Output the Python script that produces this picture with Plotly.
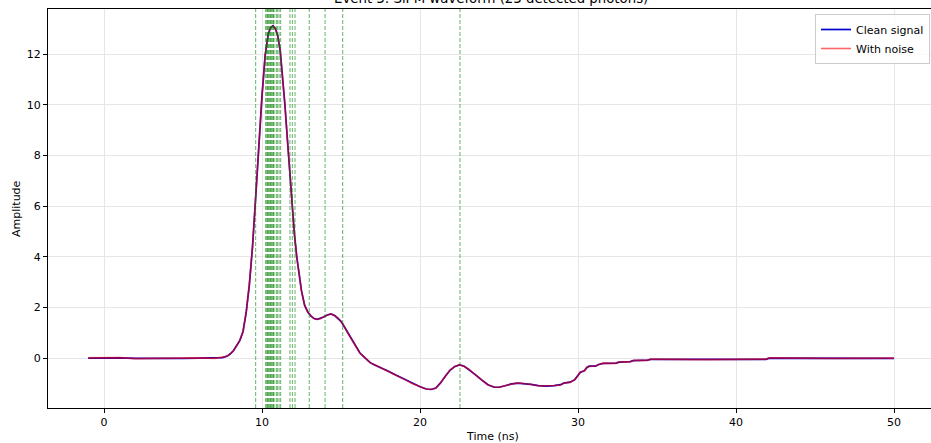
import plotly.graph_objects as go

# ---- data ----
time_ns = [-1.0, 0.0, 1.0, 2.0, 3.0, 4.0, 5.0, 6.0, 7.0, 7.5, 7.8, 8.0, 8.2, 8.4, 8.6, 8.8,
           9.0, 9.2, 9.4, 9.6, 9.8, 10.0, 10.2, 10.4, 10.55, 10.7, 10.85, 11.0, 11.15, 11.3,
           11.45, 11.6, 11.75, 11.9, 12.05, 12.2, 12.35, 12.5, 12.7, 12.9, 13.1, 13.3, 13.5,
           13.7, 13.9, 14.1, 14.35, 14.6, 14.8, 15.0, 15.2, 15.4, 15.6, 15.8, 16.0, 16.2,
           16.5, 16.85, 17.1, 17.5, 18.0, 18.5, 19.0, 19.5, 20.0, 20.4, 20.7, 21.0, 21.3,
           21.6, 21.9, 22.2, 22.5, 22.8, 23.1, 23.5, 23.9, 24.3, 24.7, 25.0, 25.4, 25.8,
           26.2, 26.6, 27.0, 27.5, 28.0, 28.5, 28.9, 29.1, 29.5, 29.8, 30.0, 30.15, 30.4,
           30.55, 30.7, 31.1, 31.3, 31.6, 32.4, 32.6, 33.3, 33.5, 34.4, 34.6, 38.0, 41.9,
           42.1, 46.0, 50.0]

clean_signal = [0.0, 0.01, 0.01, -0.01, -0.02, -0.01, -0.01, 0.0, 0.0, 0.02, 0.08, 0.17, 0.3,
                0.48, 0.7, 1.05, 1.8, 2.9, 4.4, 6.35, 8.4, 10.35, 11.95, 12.8, 13.05, 13.12,
                13.0, 12.72, 12.15, 11.2, 10.0, 8.7, 7.4, 6.1, 4.9, 4.0, 3.2, 2.65, 2.08, 1.82,
                1.66, 1.56, 1.53, 1.56, 1.62, 1.69, 1.74, 1.68, 1.58, 1.45, 1.25, 1.03, 0.8,
                0.58, 0.38, 0.2, 0.02, -0.18, -0.26, -0.37, -0.52, -0.68, -0.84, -0.99, -1.13,
                -1.22, -1.24, -1.18, -0.98, -0.72, -0.48, -0.33, -0.27, -0.32, -0.45, -0.65,
                -0.86, -1.05, -1.15, -1.15, -1.09, -1.02, -0.99, -1.0, -1.04, -1.09, -1.11,
                -1.09, -1.05, -0.99, -0.95, -0.85, -0.68, -0.56, -0.5, -0.38, -0.32, -0.32,
                -0.25, -0.21, -0.2, -0.16, -0.14, -0.1, -0.08, -0.05, -0.05, -0.05, 0.0, 0.0,
                -0.01]

with_noise = [0.01, 0.0, 0.02, -0.02, -0.01, -0.02, 0.0, 0.01, -0.01, 0.03, 0.07, 0.18, 0.29,
              0.49, 0.71, 1.04, 1.81, 2.91, 4.39, 6.36, 8.41, 10.34, 11.96, 12.79, 13.06, 13.11,
              13.01, 12.71, 12.16, 11.19, 10.01, 8.69, 7.41, 6.09, 4.91, 3.99, 3.21, 2.64, 2.09,
              1.81, 1.67, 1.55, 1.54, 1.55, 1.63, 1.68, 1.75, 1.67, 1.59, 1.44, 1.26, 1.02,
              0.81, 0.57, 0.39, 0.19, 0.03, -0.19, -0.25, -0.38, -0.51, -0.69, -0.83, -1.0,
              -1.12, -1.23, -1.23, -1.19, -0.97, -0.73, -0.47, -0.34, -0.26, -0.33, -0.44,
              -0.66, -0.85, -1.06, -1.14, -1.16, -1.08, -1.03, -0.98, -1.01, -1.03, -1.1,
              -1.1, -1.08, -1.06, -0.98, -0.96, -0.84, -0.69, -0.55, -0.51, -0.37, -0.33,
              -0.31, -0.26, -0.2, -0.21, -0.15, -0.15, -0.09, -0.09, -0.04, -0.06, -0.04, 0.01,
              -0.01, 0.0]

photon_times = [9.60, 10.23, 10.30, 10.35, 10.40, 10.45, 10.51, 10.55, 10.61, 10.68, 10.72,
                10.76, 10.90, 10.97, 11.08, 11.18, 11.77, 11.92, 12.09, 12.99, 13.99, 15.11,
                22.53]

title_text = "Event 3: SiPM waveform (23 detected photons)"
x_ticks = [0, 10, 20, 30, 40, 50]
y_ticks = [0, 2, 4, 6, 8, 10, 12]

# ---- figure ----
W, H = 931, 443
ML, MR, MT, MB = 48, 0, 9, 35
FONT = "DejaVu Sans"

fig = go.Figure()

fig.add_trace(go.Scatter(x=time_ns, y=clean_signal, mode="lines", name="Clean signal",
                         line=dict(color="#0000cc", width=1.7)))
fig.add_trace(go.Scatter(x=time_ns, y=with_noise, mode="lines", name="With noise",
                         line=dict(color="rgba(255,0,0,0.6)", width=1.6)))

for t in photon_times:
    fig.add_shape(type="line", xref="x", yref="paper", x0=t, x1=t, y0=0, y1=1,
                  line=dict(color="rgba(0,128,0,0.6)", width=1, dash="4px,2px"), layer="above")

plot_w = W - ML - MR
plot_h = H - MT - MB

fig.update_layout(
    width=W, height=H,
    margin=dict(l=ML, r=MR, t=MT, b=MB),
    paper_bgcolor="white", plot_bgcolor="white",
    font=dict(family=FONT, size=11, color="#000"),
    showlegend=True,
    legend=dict(x=(930 - ML) / plot_w, xanchor="right", y=1 - 5 / plot_h, yanchor="top",
                bgcolor="rgba(255,255,255,0.8)", bordercolor="#cccccc", borderwidth=1,
                itemwidth=30,
                font=dict(family=FONT, size=11, color="#000"), tracegroupgap=0),
    xaxis=dict(range=[-3.544, 52.34], tickvals=x_ticks, ticks="outside", ticklen=4,
               tickcolor="#000", showline=True, linecolor="#000", linewidth=1, mirror=True,
               showgrid=True, gridcolor="#e6e6e6", gridwidth=1, zeroline=False,
               tickfont=dict(family=FONT, size=11, color="#000")),
    yaxis=dict(range=[-1.97, 13.78], tickvals=y_ticks, ticks="outside", ticklen=4,
               tickcolor="#000", showline=True, linecolor="#000", linewidth=1, mirror=False,
               showgrid=True, gridcolor="#e6e6e6", gridwidth=1, zeroline=False,
               tickfont=dict(family=FONT, size=11, color="#000")),
    annotations=[
        dict(text=title_text, xref="paper", yref="paper", x=(491 - ML) / plot_w,
             y=1 + (MT - 8) / plot_h, xanchor="center", yanchor="bottom", showarrow=False,
             font=dict(family=FONT, size=13.3, color="#000")),
        dict(text="Time (ns)", xref="paper", yref="paper", x=(492 - ML) / plot_w,
             y=-(436 - (MT + plot_h)) / plot_h, xanchor="center", yanchor="middle",
             showarrow=False, font=dict(family=FONT, size=11, color="#000")),
        dict(text="Amplitude", xref="paper", yref="paper", x=(16.5 - ML) / plot_w, y=0.5,
             xanchor="center", yanchor="middle", textangle=-90, showarrow=False,
             font=dict(family=FONT, size=11, color="#000")),
    ],
)

fig.write_html("out.html")
